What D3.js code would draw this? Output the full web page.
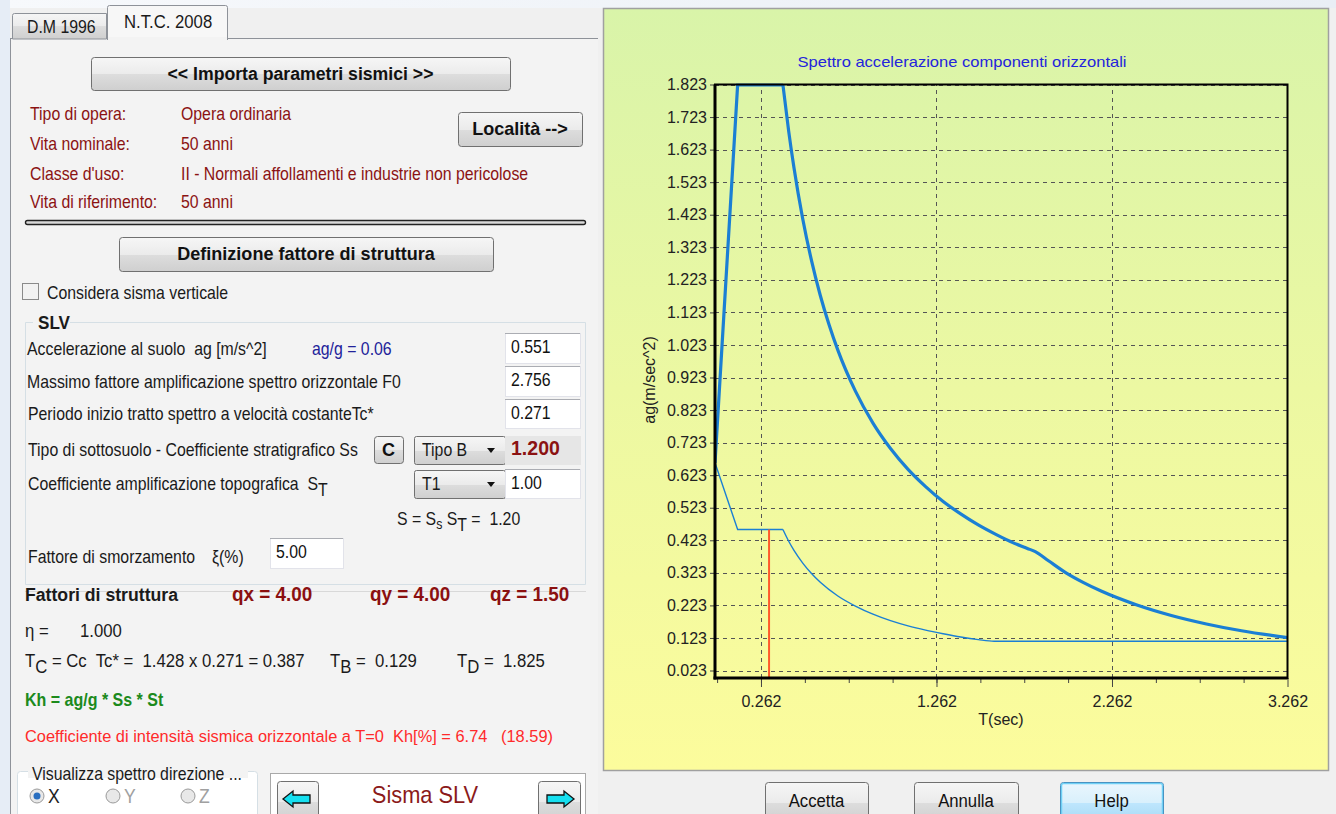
<!DOCTYPE html>
<html><head><meta charset="utf-8">
<script src="https://cdn.jsdelivr.net/npm/d3@7/dist/d3.min.js"></script>
<style>
html,body{margin:0;padding:0;background:#f0f0f0;overflow:hidden}
svg{display:block}
text{font-family:"Liberation Sans",Arial,sans-serif;white-space:pre}
</style></head><body>
<svg id="c" width="1336" height="814"></svg>
<script>
// ---------- DATA ----------
const xTicks = [0.262, 1.262, 2.262, 3.262];
const yTicks = [0.023,0.123,0.223,0.323,0.423,0.523,0.623,0.723,0.823,0.923,1.023,1.123,1.223,1.323,1.423,1.523,1.623,1.723,1.823];
// elastic spectrum (thick line): rising branch + plateau, then decaying branch
const elasticRiseT = [0, 0.129, 0.387];
const elasticRiseA = [0.661, 1.822, 1.822];
const elasticT = [0.387, 0.42, 0.45, 0.5, 0.55, 0.6, 0.65, 0.7, 0.8, 0.9, 1.0, 1.1, 1.2, 1.3, 1.4, 1.5, 1.6, 1.7, 1.78, 1.825, 1.9, 2.0, 2.1, 2.2, 2.4, 2.6, 2.8, 3.0, 3.262];
const elasticA = [1.822, 1.679, 1.567, 1.410, 1.282, 1.175, 1.085, 1.007, 0.881, 0.783, 0.705, 0.641, 0.588, 0.542, 0.504, 0.470, 0.441, 0.415, 0.398, 0.388, 0.360, 0.323, 0.293, 0.267, 0.225, 0.192, 0.166, 0.145, 0.124];
// design spectrum (thin line)
const designRiseT = [0, 0.129, 0.387];
const designRiseA = [0.661, 0.456, 0.456];
const designT = [0.387, 0.42, 0.45, 0.5, 0.55, 0.6, 0.7, 0.8, 0.9, 1.0, 1.1, 1.2, 1.3, 1.4, 1.5, 1.59, 3.262];
const designA = [0.456, 0.420, 0.392, 0.353, 0.321, 0.294, 0.252, 0.221, 0.196, 0.176, 0.160, 0.147, 0.136, 0.126, 0.118, 0.113, 0.113];
// red marker (structure period)
const markerT = [0.308];
const markerA = [0.456];

const svg = d3.select("#c");
const defs = svg.append("defs");

// ---------- helpers ----------
function grad(id, stops, vertical=true){
  const g = defs.append("linearGradient").attr("id", id)
    .attr("x1",0).attr("y1",0).attr("x2", vertical?0:1).attr("y2", vertical?1:0);
  stops.forEach(s=>g.append("stop").attr("offset",s[0]).attr("stop-color",s[1]));
}
grad("btn", [[0,"#f6f6f6"],[0.5,"#ebebeb"],[0.51,"#dddddd"],[1,"#cfcfcf"]]);
grad("btnHelp", [[0,"#eaf6fd"],[0.5,"#d9f0fc"],[0.51,"#bee6fd"],[1,"#a7d9f5"]]);
grad("panel", [[0,"#d9f4a9"],[0.5,"#ecf8a2"],[1,"#fcfc9c"]]);
grad("chrome", [[0,"#f7f9fc"],[1,"#e9eef5"]], false);

// text: font drawn taller and horizontally condensed like the original UI font
function txt(g, x, y, s, o={}){
  const sx = o.sx==null ? 0.88 : o.sx;
  const t = g.append("text").attr("x",0).attr("y",0).text(s)
    .attr("transform",`translate(${x},${y}) scale(${sx},1)`)
    .attr("font-size", o.size||18).attr("fill", o.color||"#1a1a1a")
    .attr("font-weight", o.bold?"bold":"normal");
  if(o.anchor) t.attr("text-anchor", o.anchor);
  if(o.len) t.attr("textLength", o.len/sx).attr("lengthAdjust","spacingAndGlyphs");
  return t;
}
function sub(t, s, size){ t.append("tspan").attr("dy",6).attr("font-size",size||null).text(s); }
function sup(t, s){ t.append("tspan").attr("dy",-6).text(s); }

function button(g, x, y, w, h, label, o={}){
  g.append("rect").attr("x",x+0.5).attr("y",y+0.5).attr("width",w).attr("height",h)
    .attr("rx",3).attr("fill", o.help?"url(#btnHelp)":"url(#btn)")
    .attr("stroke", o.help?"#3c7fb1":"#707070");
  if(o.help) g.append("rect").attr("x",x+1.5).attr("y",y+1.5).attr("width",w-2).attr("height",h-2)
    .attr("rx",2).attr("fill","none").attr("stroke","#6fd0f5").attr("stroke-width",1.5);
  if(label) txt(g, x+w/2, y+(o.ty||h/2+6), label, {anchor:"middle", bold:o.bold, size:o.size||18, sx:o.sx, color:o.color||"#111"});
}
function input(g, x, y, w, h, val, o={}){
  g.append("rect").attr("x",x+0.5).attr("y",y+0.5).attr("width",w).attr("height",h)
    .attr("fill", o.fill||"#ffffff").attr("stroke", o.stroke||"#e2e3ea");
  g.append("line").attr("x1",x).attr("x2",x+w).attr("y1",y+0.5).attr("y2",y+0.5).attr("stroke", o.stroke||"#abadb3");
  txt(g, x+6, y+h/2+5, val, {size:o.size||18, sx:o.sx, bold:o.bold, color:o.color||"#111"});
}
function combo(g, x, y, w, h, val){
  g.append("rect").attr("x",x+0.5).attr("y",y+0.5).attr("width",w).attr("height",h)
    .attr("rx",2).attr("fill","url(#btn)").attr("stroke","#707070");
  txt(g, x+8, y+h/2+6, val, {size:18});
  g.append("path").attr("d",`M${x+w-18},${y+h/2-2} l8,0 l-4,5 z`).attr("fill","#111");
}

// ---------- window chrome ----------
svg.append("rect").attr("width",1336).attr("height",814).attr("fill","#f0f0f0");
svg.append("rect").attr("x",0).attr("y",0).attr("width",1336).attr("height",8).attr("fill","url(#chrome)");
svg.append("rect").attr("x",0).attr("y",0).attr("width",10).attr("height",814).attr("fill","#e6edf6");

// ---------- LEFT PANEL ----------
const L = svg.append("g");
L.append("rect").attr("x",10.5).attr("y",38.5).attr("width",588).attr("height",790)
  .attr("fill","#f3f3f3").attr("stroke","#8e9299");
// tabs
L.append("path").attr("d","M12.5,39 L12.5,15.5 Q12.5,13.5 14.5,13.5 L106.5,13.5 L106.5,39 Z")
  .attr("fill","url(#btn)").attr("stroke","#8e9299");
txt(L, 27, 33, "D.M 1996", {size:18});
L.append("path").attr("d","M107.5,40 L107.5,7.5 Q107.5,5.5 109.5,5.5 L225.5,5.5 Q227.5,5.5 227.5,7.5 L227.5,40")
  .attr("fill","#f7f7f7").attr("stroke","#8e9299");
L.append("rect").attr("x",108).attr("y",37).attr("width",119).attr("height",4).attr("fill","#f3f3f3");
txt(L, 124, 28, "N.T.C. 2008", {size:19});

button(L, 91, 57, 419, 33, "<< Importa parametri sismici >>", {bold:true, size:19, sx:0.93});
const red = "#8b1212";
[["Tipo di opera:","Opera ordinaria",120],["Vita nominale:","50 anni",150],
 ["Classe d'uso:","II - Normali affollamenti e industrie non pericolose",180],
 ["Vita di riferimento:","50 anni",208]].forEach(r=>{
  txt(L, 30, r[2], r[0], {color:red});
  txt(L, 181, r[2], r[1], {color:red});
});
button(L, 458, 112, 124, 34, "Località -->", {bold:true, size:19, sx:0.95});
// separator
L.append("rect").attr("x",25.5).attr("y",220.5).attr("width",560).attr("height",4).attr("rx",2)
  .attr("fill","#d8d8d8").attr("stroke","#222").attr("stroke-width",1.4);
button(L, 119, 237, 374, 34, "Definizione fattore di struttura", {bold:true, size:19, sx:0.95});
// checkbox
L.append("rect").attr("x",22.5).attr("y",283.5).attr("width",16).attr("height",16)
  .attr("fill","#f2f2f2").attr("stroke","#8a8a8a");
txt(L, 47, 299, "Considera sisma verticale");
// SLV group frame
L.append("path").attr("d","M70,322.5 L585.5,322.5 L585.5,584.5 L25.5,584.5 L25.5,322.5 L33,322.5")
  .attr("fill","none").attr("stroke","#d5dfe5");
txt(L, 38, 329, "SLV", {bold:true, size:18, sx:0.95});
txt(L, 27, 355, "Accelerazione al suolo  ag [m/s^2]");
txt(L, 312, 355, "ag/g = 0.06", {color:"#22229a"});
input(L, 505, 333, 75, 30, "0.551");
txt(L, 27, 388, "Massimo fattore amplificazione spettro orizzontale F0");
input(L, 505, 366, 75, 30, "2.756");
txt(L, 28, 420, "Periodo inizio tratto spettro a velocità costanteTc*");
input(L, 505, 399, 75, 29, "0.271");
txt(L, 28, 456, "Tipo di sottosuolo - Coefficiente stratigrafico Ss");
button(L, 374, 436, 29, 27, "C", {bold:true, size:19, sx:0.95});
combo(L, 414, 436, 91, 28, "Tipo B");
input(L, 505, 436, 75, 28, "1.200", {fill:"#e6e6e6", stroke:"#e6e6e6", bold:true, color:"#8b1212", size:21, sx:0.93});
const st = txt(L, 28, 490, "Coefficiente amplificazione topografica  S");
sub(st, "T");
combo(L, 414, 470, 91, 28, "T1");
input(L, 505, 469, 75, 29, "1.00");
const s2 = txt(L, 397, 525, "S = S");
s2.append("tspan").attr("dy",4).attr("font-size",14).text("s");
s2.append("tspan").attr("dy",-4).text(" S");
s2.append("tspan").attr("dy",6).text("T");
s2.append("tspan").attr("dy",-6).text(" =  1.20");
txt(L, 28, 563, "Fattore di smorzamento");
txt(L, 212, 563, "ξ(%)");
input(L, 270, 538, 73, 30, "5.00");
// lower info
L.append("line").attr("x1",25).attr("x2",586).attr("y1",591.5).attr("y2",591.5).attr("stroke","#d8d8d8");
txt(L, 25, 601, "Fattori di struttura", {bold:true, size:19, sx:0.93});
txt(L, 232, 601, "qx = 4.00", {bold:true, size:21, sx:0.9, color:"#8b1010"});
txt(L, 370, 601, "qy = 4.00", {bold:true, size:21, sx:0.9, color:"#8b1010"});
txt(L, 490, 601, "qz = 1.50", {bold:true, size:21, sx:0.9, color:"#8b1010"});
txt(L, 25, 637, "η =", {size:19});
txt(L, 80, 637, "1.000", {size:19});
const tc = txt(L, 25, 667, "T", {size:19}); sub(tc, "C");
tc.append("tspan").attr("dy",-6).text(" = Cc  Tc* =  1.428 x 0.271 = 0.387");
const tb = txt(L, 330, 667, "T", {size:19}); sub(tb, "B"); sup(tb, " =  0.129");
const td = txt(L, 457, 667, "T", {size:19}); sub(td, "D"); sup(td, " =  1.825");
txt(L, 25, 706, "Kh = ag/g * Ss * St", {bold:true, size:18, sx:0.89, color:"#1c8a1c"});
txt(L, 25, 742, "Coefficiente di intensità sismica orizzontale a T=0  Kh[%] = 6.74   (18.59)", {size:17, color:"#ff2a2a", len:528});
// direction group
L.append("rect").attr("x",17.5).attr("y",771.5).attr("width",240).attr("height",60).attr("rx",3)
  .attr("fill","#ffffff").attr("stroke","#d5dfe5");
L.append("rect").attr("x",28).attr("y",764).attr("width",220).attr("height",14).attr("fill","#f3f3f3");
txt(L, 32, 780, "Visualizza spettro direzione ...");
[[37,"X",true],[113,"Y",false],[188,"Z",false]].forEach(r=>{
  L.append("circle").attr("cx",r[0]).attr("cy",796).attr("r",7).attr("fill","#e8e8e8").attr("stroke","#9a9a9a");
  if(r[2]) L.append("circle").attr("cx",r[0]).attr("cy",796).attr("r",3.5).attr("fill","#2a6fc0");
  txt(L, r[0]+11, 803, r[1], {size:20, color: r[2]?"#222":"#a0a0a0"});
});
L.append("rect").attr("x",270.5).attr("y",773.5).attr("width",315).attr("height",60)
  .attr("fill","#ffffff").attr("stroke","#a9a9a9");
button(L, 277, 781, 41, 40, null);
button(L, 538, 781, 42, 40, null);
L.append("path").attr("d","M283,799 l10,-8 l0,4 l17,0 l0,8 l-17,0 l0,4 z").attr("fill","#16e0f0").attr("stroke","#111").attr("stroke-width",1.3);
L.append("path").attr("d","M574,799 l-10,-8 l0,4 l-17,0 l0,8 l17,0 l0,4 z").attr("fill","#16e0f0").attr("stroke","#111").attr("stroke-width",1.3);
txt(L, 425, 803, "Sisma SLV", {anchor:"middle", size:24, sx:0.91, color:"#8b1a1a"});

// ---------- RIGHT PANEL (chart) ----------
const R = svg.append("g");
R.append("rect").attr("x",598).attr("y",8).attr("width",738).attr("height",806).attr("fill","#f0f0f0");
R.append("rect").attr("x",603.5).attr("y",8.5).attr("width",725).attr("height",762)
  .attr("fill","url(#panel)").attr("stroke","#a0a0a0").attr("stroke-width",1.5);

const x = d3.scaleLinear().domain([0, 3.262]).range([715, 1287.5]);
const y = d3.scaleLinear().domain([0, 1.823]).range([678, 84.5]);

txt(R, 962, 67, "Spettro accelerazione componenti orizzontali", {anchor:"middle", size:15, sx:1, color:"#2424dc", len:329});

// grid
const grid = R.append("g").attr("stroke","#555").attr("stroke-width",1).attr("stroke-dasharray","4,4");
yTicks.forEach(v=>grid.append("line").attr("x1",x(0)).attr("x2",x(3.262)).attr("y1",Math.round(y(v))+0.5).attr("y2",Math.round(y(v))+0.5));
xTicks.slice(0,3).forEach(v=>grid.append("line").attr("y1",y(0)).attr("y2",y(1.823)).attr("x1",Math.round(x(v))+0.5).attr("x2",Math.round(x(v))+0.5));

// axes with library generators
const yAxis = d3.axisLeft(y).tickValues(yTicks).tickFormat(d3.format(".3f")).tickSize(5).tickPadding(3);
const yg = R.append("g").attr("transform",`translate(${x(0)},0)`).call(yAxis);
yg.select(".domain").remove();
yg.selectAll("text").attr("font-size",16).attr("fill","#222").style("font-family","Liberation Sans, Arial, sans-serif");
yg.selectAll("line").attr("stroke","#444");

const minorX = d3.range(0, 13).map(i=> +(0.012 + 0.25*i).toFixed(3));
const xMinor = d3.axisBottom(x).tickValues(minorX).tickSize(5).tickFormat("");
const xmg = R.append("g").attr("transform",`translate(0,${y(0)})`).call(xMinor);
xmg.select(".domain").remove(); xmg.selectAll("line").attr("stroke","#444");
const xAxis = d3.axisBottom(x).tickValues(xTicks).tickFormat(d3.format(".3f")).tickSize(9).tickPadding(9);
const xg = R.append("g").attr("transform",`translate(0,${y(0)})`).call(xAxis);
xg.select(".domain").remove();
xg.selectAll("text").attr("font-size",16).attr("fill","#222").style("font-family","Liberation Sans, Arial, sans-serif");
xg.selectAll("line").attr("stroke","#444");

// curves
defs.append("clipPath").attr("id","plotclip").append("rect")
  .attr("x",x(0)).attr("y",y(1.823)-1).attr("width",x(3.262)-x(0)).attr("height",y(0)-y(1.823)+1);
const lin = d3.line().x(d=>x(d[0])).y(d=>y(d[1]));
const mono = d3.line().x(d=>x(d[0])).y(d=>y(d[1])).curve(d3.curveMonotoneX);
const zip = (a,b)=>a.map((t,i)=>[t,b[i]]);
const P = R.append("g").attr("clip-path","url(#plotclip)");
const blue = "#1b7fd4";
P.append("path").datum(zip(designRiseT,designRiseA)).attr("d",lin).attr("fill","none").attr("stroke",blue).attr("stroke-width",1.4);
P.append("path").datum(zip(designT,designA)).attr("d",mono).attr("fill","none").attr("stroke",blue).attr("stroke-width",1.4);
P.append("path").datum(zip(elasticRiseT,elasticRiseA)).attr("d",lin).attr("fill","none").attr("stroke",blue).attr("stroke-width",3.2);
P.append("path").datum(zip(elasticT,elasticA)).attr("d",mono).attr("fill","none").attr("stroke",blue).attr("stroke-width",3.2);
P.append("line").attr("x1",x(markerT[0])).attr("x2",x(markerT[0])).attr("y1",y(0)).attr("y2",y(markerA[0]))
  .attr("stroke","#ff5a2a").attr("stroke-width",2);

// frame
R.append("rect").attr("x",x(0)).attr("y",y(1.823)).attr("width",x(3.262)-x(0)).attr("height",y(0)-y(1.823))
  .attr("fill","none").attr("stroke","#000").attr("stroke-width",2);
R.append("line").attr("x1",x(0)).attr("x2",x(0)).attr("y1",y(1.823)).attr("y2",y(0)+1.5).attr("stroke","#000").attr("stroke-width",3);
R.append("line").attr("x1",x(0)-1.5).attr("x2",x(3.262)).attr("y1",y(0)).attr("y2",y(0)).attr("stroke","#000").attr("stroke-width",3);

// axis titles
txt(R, 1001, 725, "T(sec)", {anchor:"middle", size:16, sx:1, color:"#222"});
txt(R, 0, 0, "ag(m/sec^2)", {anchor:"middle", size:16, sx:1, color:"#222"})
  .attr("transform","translate(655,380) rotate(-90)");

// bottom buttons
button(R, 765, 782, 103, 40, "Accetta", {size:19, ty:25});
button(R, 914, 782, 104, 40, "Annulla", {size:19, ty:25});
button(R, 1060, 782, 103, 40, "Help", {size:19, ty:25, help:true});
</script>
</body></html>
